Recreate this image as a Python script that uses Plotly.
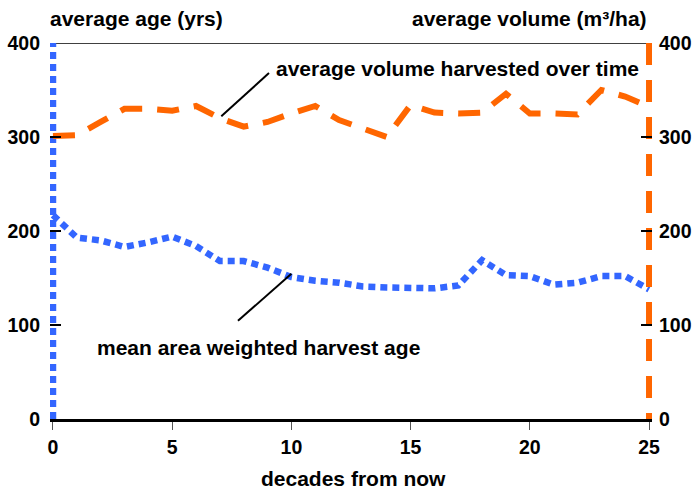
import plotly.graph_objects as go

# ---- data ----
decades = list(range(0, 26))
harvest_age = [217, 193, 190, 183, 188, 194, 184, 168, 168, 161, 151, 147, 145, 141, 140, 139,
               139, 142, 169, 153, 152, 143, 145, 152, 152, 138]
volume_harvested = [301, 302, 316, 330, 330, 328, 333, 320, 311, 316, 325, 333, 318, 309, 300, 334,
                    326, 325, 326, 346, 325, 325, 324, 350, 343, 332]
age_axis_x = [0, 0]
age_axis_y = [0, 400]
vol_axis_x = [25, 25]
vol_axis_y = [400, 0]
x_ticks = [0, 5, 10, 15, 20, 25]
y_ticks = [0, 100, 200, 300, 400]

BLUE = "#3366ff"
ORANGE = "#ff6600"
FONT = "Liberation Sans"

fig = go.Figure()

fig.add_trace(go.Scatter(x=age_axis_x, y=age_axis_y, mode="lines",
                         line=dict(color=BLUE, width=6.5, dash="7px,5px"), hoverinfo="skip"))
fig.add_trace(go.Scatter(x=vol_axis_x, y=vol_axis_y, mode="lines", yaxis="y2",
                         line=dict(color=ORANGE, width=6, dash="22px,15px"), hoverinfo="skip"))
fig.add_trace(go.Scatter(x=decades, y=harvest_age, mode="lines",
                         name="mean area weighted harvest age",
                         line=dict(color=BLUE, width=6.5, dash="7px,5px")))
fig.add_trace(go.Scatter(x=decades, y=volume_harvested, mode="lines", yaxis="y2",
                         name="average volume harvested over time",
                         line=dict(color=ORANGE, width=6, dash="22px,15px")))

tickfont = dict(family=FONT, size=19.5, color="black", weight="bold")

fig.update_layout(
    width=692, height=491,
    margin=dict(l=50, r=40, t=43, b=72, pad=0),
    paper_bgcolor="white", plot_bgcolor="white",
    showlegend=False,
    font=dict(family=FONT, color="black", weight="bold"),
    xaxis=dict(range=[-0.125, 25.125], tickvals=x_ticks, ticks="outside", ticklen=8, tickwidth=1,
               tickcolor="#555555", showline=True, linewidth=3, linecolor="black",
               showgrid=False, zeroline=False, tickfont=tickfont, ticklabelstandoff=1,
               automargin=False),
    yaxis=dict(range=[0, 400], tickvals=y_ticks, ticks="inside", ticklen=11, tickwidth=1.5,
               tickcolor="black", showline=False, showgrid=False, zeroline=False,
               tickfont=tickfont, ticklabelstandoff=9, automargin=False),
    yaxis2=dict(range=[0, 400], tickvals=y_ticks, ticks="inside", ticklen=11, tickwidth=1.5,
                tickcolor="black", overlaying="y", side="right", showline=False,
                showgrid=False, zeroline=False, tickfont=tickfont, ticklabelstandoff=6,
                automargin=False),
)

# top border line at 400
fig.add_shape(type="line", xref="x", yref="y", x0=0, x1=25, y0=400, y1=400,
              line=dict(color="black", width=1.5), layer="below")
# leader lines
fig.add_shape(type="line", xref="x", yref="y2", x0=7.06, y0=322, x1=9.06, y1=368,
              line=dict(color="black", width=2))
fig.add_shape(type="line", xref="x", yref="y", x0=7.76, y0=104.5, x1=10.0, y1=154.4,
              line=dict(color="black", width=2))

labfont = dict(family=FONT, size=21, color="black", weight="bold")
fig.add_annotation(x=9.25, y=373, xref="x", yref="y", text="average volume harvested over time",
                   showarrow=False, xanchor="left", yanchor="middle", font=labfont)
fig.add_annotation(x=1.78, y=76.5, xref="x", yref="y", text="mean area weighted harvest age",
                   showarrow=False, xanchor="left", yanchor="middle", font=labfont)
fig.add_annotation(x=-0.004, y=1.066, xref="paper", yref="paper", text="average age (yrs)",
                   showarrow=False, xanchor="left", yanchor="middle", font=labfont)
fig.add_annotation(x=25, y=400, xref="x", yref="y", text="average volume (m³/ha)",
                   showarrow=False, xanchor="right", yanchor="middle", yshift=25, font=labfont)
fig.add_annotation(x=12.6, y=0, xref="x", yref="y", text="decades from now",
                   showarrow=False, xanchor="center", yanchor="middle", yshift=-59, font=labfont)

# remove the default page margin so the 692x491 figure fills the window exactly
fig.write_html("out.html", config={"displayModeBar": False},
               post_script="document.body.style.margin='0px';")
